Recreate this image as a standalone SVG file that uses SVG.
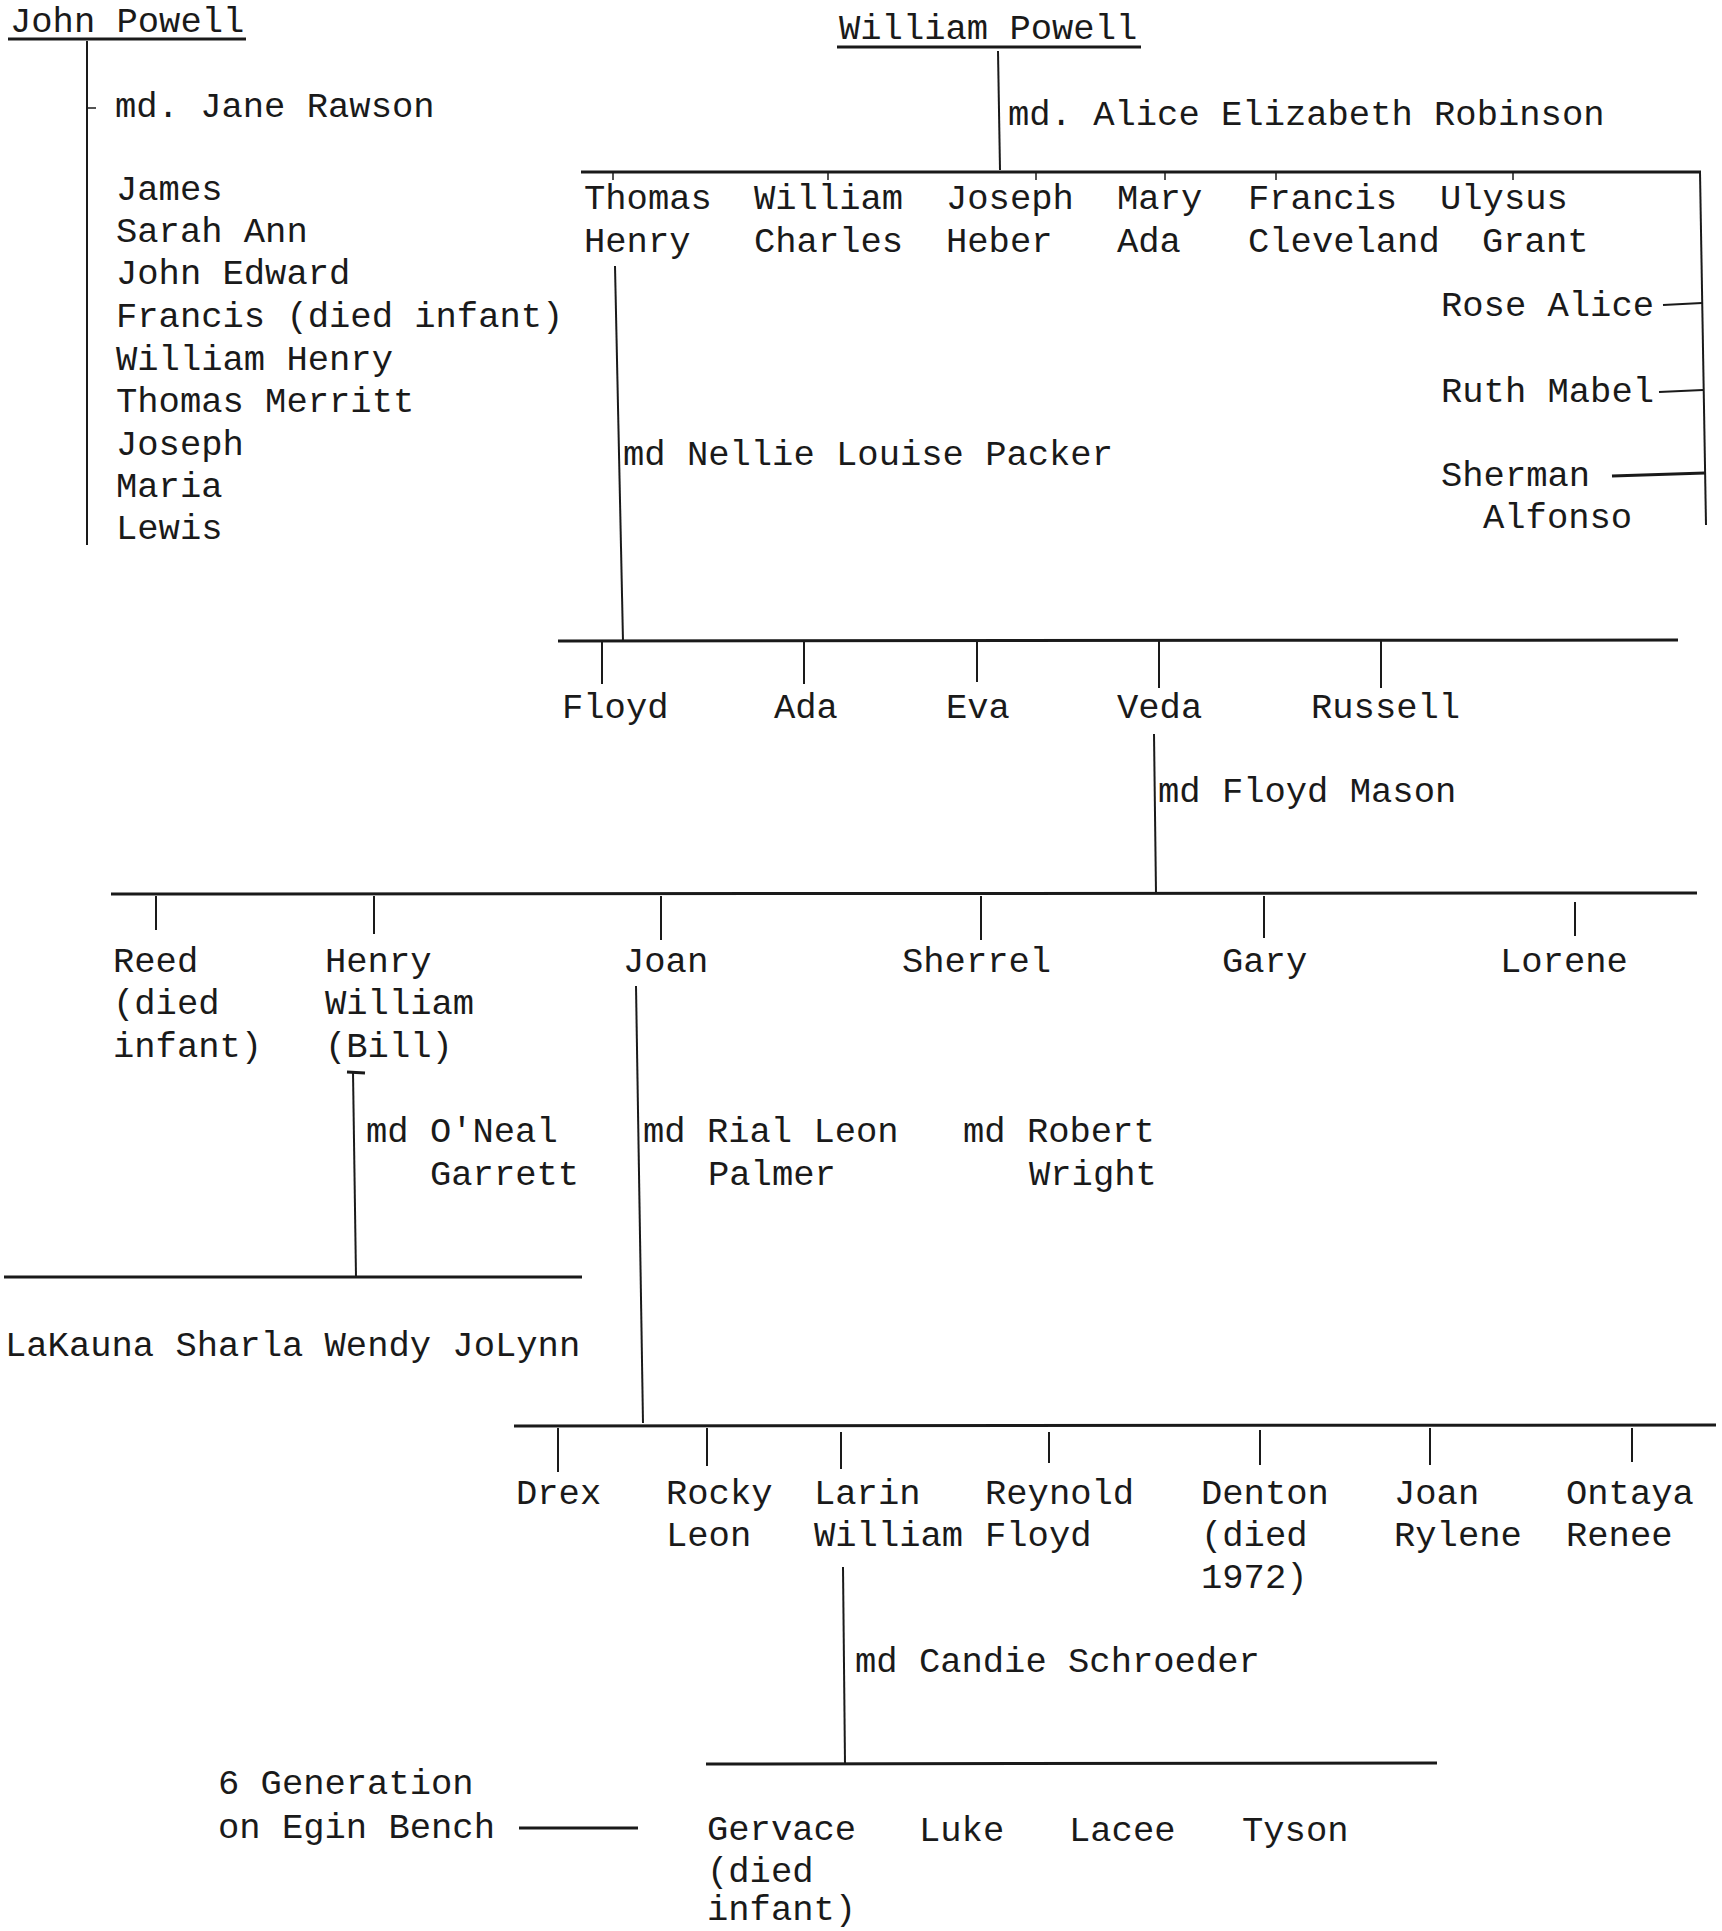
<svg xmlns="http://www.w3.org/2000/svg" width="1722" height="1931" viewBox="0 0 1722 1931">
<style>
text{font-family:"Liberation Mono","DejaVu Sans Mono",monospace;font-size:35.5px;fill:#1a1a1a}
.l{stroke:#1a1a1a;stroke-width:2;fill:none;stroke-linecap:butt}
.h{stroke:#1a1a1a;stroke-width:3;fill:none}
.t{stroke:#1a1a1a;stroke-width:1.5;fill:none}
</style>
<rect width="1722" height="1931" fill="#fff"/>
<g id="connectors">
<line class="h" x1="8" y1="39" x2="246" y2="39"/>
<line class="l" x1="87" y1="41" x2="87" y2="545"/>
<line class="t" x1="88" y1="108" x2="96" y2="108"/>
<line class="h" x1="837" y1="47" x2="1141" y2="47"/>
<line class="l" x1="998" y1="51" x2="1000" y2="170"/>
<line class="h" x1="581" y1="172" x2="1701" y2="172"/>
<line class="l" x1="1700" y1="172" x2="1706" y2="525"/>
<line class="t" x1="613" y1="172" x2="613" y2="180"/>
<line class="t" x1="828" y1="172" x2="828" y2="180"/>
<line class="t" x1="1036" y1="172" x2="1036" y2="180"/>
<line class="t" x1="1165" y1="172" x2="1165" y2="180"/>
<line class="t" x1="1276" y1="172" x2="1276" y2="180"/>
<line class="t" x1="1513" y1="172" x2="1513" y2="180"/>
<line class="l" x1="1663" y1="305" x2="1702" y2="303"/>
<line class="l" x1="1659" y1="392" x2="1703" y2="390"/>
<line class="h" x1="1612" y1="476" x2="1705" y2="473"/>
<line class="l" x1="615" y1="266" x2="623" y2="641"/>
<line class="h" x1="558" y1="641" x2="1678" y2="640"/>
<line class="l" x1="602" y1="641" x2="602" y2="684"/>
<line class="l" x1="804" y1="641" x2="804" y2="684"/>
<line class="l" x1="977" y1="641" x2="977" y2="682"/>
<line class="l" x1="1159" y1="641" x2="1159" y2="688"/>
<line class="l" x1="1381" y1="641" x2="1381" y2="688"/>
<line class="l" x1="1154" y1="734" x2="1156" y2="893"/>
<line class="h" x1="111" y1="894" x2="1697" y2="893"/>
<line class="l" x1="156" y1="896" x2="156" y2="930"/>
<line class="l" x1="374" y1="896" x2="374" y2="934"/>
<line class="l" x1="661" y1="896" x2="661" y2="940"/>
<line class="l" x1="981" y1="896" x2="981" y2="940"/>
<line class="l" x1="1264" y1="896" x2="1264" y2="938"/>
<line class="l" x1="1575" y1="902" x2="1575" y2="936"/>
<line class="h" x1="347" y1="1072" x2="365" y2="1073"/>
<line class="l" x1="353" y1="1072" x2="356" y2="1277"/>
<line class="h" x1="4" y1="1277" x2="582" y2="1277"/>
<line class="l" x1="636" y1="986" x2="643" y2="1423"/>
<line class="h" x1="514" y1="1426" x2="1716" y2="1425"/>
<line class="l" x1="558" y1="1428" x2="558" y2="1472"/>
<line class="l" x1="707" y1="1428" x2="707" y2="1466"/>
<line class="l" x1="841" y1="1432" x2="841" y2="1469"/>
<line class="l" x1="1049" y1="1432" x2="1049" y2="1463"/>
<line class="l" x1="1260" y1="1430" x2="1260" y2="1465"/>
<line class="l" x1="1430" y1="1428" x2="1430" y2="1465"/>
<line class="l" x1="1632" y1="1428" x2="1632" y2="1462"/>
<line class="l" x1="843" y1="1567" x2="845" y2="1764"/>
<line class="h" x1="706" y1="1764" x2="1437" y2="1763"/>
<line class="h" x1="519" y1="1828" x2="638" y2="1828"/>
</g>
<g id="john-powell"><text x="10" y="32">John Powell</text></g>
<g id="jane-rawson"><text x="115" y="117">md. Jane Rawson</text></g>
<g id="john-children">
<text x="116" y="200">James</text>
<text x="116" y="242">Sarah Ann</text>
<text x="116" y="284">John Edward</text>
<text x="116" y="327">Francis (died infant)</text>
<text x="116" y="370">William Henry</text>
<text x="116" y="412">Thomas Merritt</text>
<text x="116" y="455">Joseph</text>
<text x="116" y="497">Maria</text>
<text x="116" y="539">Lewis</text>
</g>
<g id="william-powell"><text x="839" y="39">William Powell</text></g>
<g id="alice-robinson"><text x="1008" y="125">md. Alice Elizabeth Robinson</text></g>
<g id="thomas-henry"><text x="584" y="209">Thomas</text><text x="584" y="252">Henry</text></g>
<g id="william-charles"><text x="754" y="209">William</text><text x="754" y="252">Charles</text></g>
<g id="joseph-heber"><text x="946" y="209">Joseph</text><text x="946" y="252">Heber</text></g>
<g id="mary-ada"><text x="1117" y="209">Mary</text><text x="1117" y="252">Ada</text></g>
<g id="francis-cleveland"><text x="1248" y="209">Francis</text><text x="1248" y="252">Cleveland</text></g>
<g id="ulysus-grant"><text x="1440" y="209">Ulysus</text><text x="1482" y="252">Grant</text></g>
<g id="rose-alice"><text x="1441" y="316">Rose Alice</text></g>
<g id="ruth-mabel"><text x="1441" y="402">Ruth Mabel</text></g>
<g id="sherman-alfonso"><text x="1441" y="486">Sherman</text><text x="1483" y="528">Alfonso</text></g>
<g id="nellie-packer"><text x="623" y="465">md Nellie Louise Packer</text></g>
<g id="floyd"><text x="562" y="718">Floyd</text></g>
<g id="ada"><text x="774" y="718">Ada</text></g>
<g id="eva"><text x="946" y="718">Eva</text></g>
<g id="veda"><text x="1117" y="718">Veda</text></g>
<g id="russell"><text x="1311" y="718">Russell</text></g>
<g id="floyd-mason"><text x="1158" y="802">md Floyd Mason</text></g>
<g id="reed"><text x="113" y="972">Reed</text><text x="113" y="1014">(died</text><text x="113" y="1057">infant)</text></g>
<g id="henry-william"><text x="325" y="972">Henry</text><text x="325" y="1014">William</text><text x="325" y="1057">(Bill)</text></g>
<g id="joan"><text x="623" y="972">Joan</text></g>
<g id="sherrel"><text x="902" y="972">Sherrel</text></g>
<g id="gary"><text x="1222" y="972">Gary</text></g>
<g id="lorene"><text x="1500" y="972">Lorene</text></g>
<g id="oneal-garrett"><text x="366" y="1142">md O'Neal</text><text x="430" y="1185">Garrett</text></g>
<g id="rial-palmer"><text x="643" y="1142">md Rial Leon</text><text x="708" y="1185">Palmer</text></g>
<g id="robert-wright"><text x="963" y="1142">md Robert</text><text x="1029" y="1185">Wright</text></g>
<g id="bill-children"><text x="5" y="1356">LaKauna Sharla Wendy JoLynn</text></g>
<g id="drex"><text x="516" y="1504">Drex</text></g>
<g id="rocky-leon"><text x="666" y="1504">Rocky</text><text x="666" y="1546">Leon</text></g>
<g id="larin-william"><text x="814" y="1504">Larin</text><text x="814" y="1546">William</text></g>
<g id="reynold-floyd"><text x="985" y="1504">Reynold</text><text x="985" y="1546">Floyd</text></g>
<g id="denton"><text x="1201" y="1504">Denton</text><text x="1201" y="1546">(died</text><text x="1201" y="1588">1972)</text></g>
<g id="joan-rylene"><text x="1394" y="1504">Joan</text><text x="1394" y="1546">Rylene</text></g>
<g id="ontaya-renee"><text x="1566" y="1504">Ontaya</text><text x="1566" y="1546">Renee</text></g>
<g id="candie-schroeder"><text x="855" y="1672">md Candie Schroeder</text></g>
<g id="six-generation"><text x="218" y="1794">6 Generation</text><text x="218" y="1838">on Egin Bench</text></g>
<g id="gervace"><text x="707" y="1840">Gervace</text><text x="707" y="1882">(died</text><text x="707" y="1920">infant)</text></g>
<g id="luke"><text x="919" y="1841">Luke</text></g>
<g id="lacee"><text x="1069" y="1841">Lacee</text></g>
<g id="tyson"><text x="1242" y="1841">Tyson</text></g>
</svg>
